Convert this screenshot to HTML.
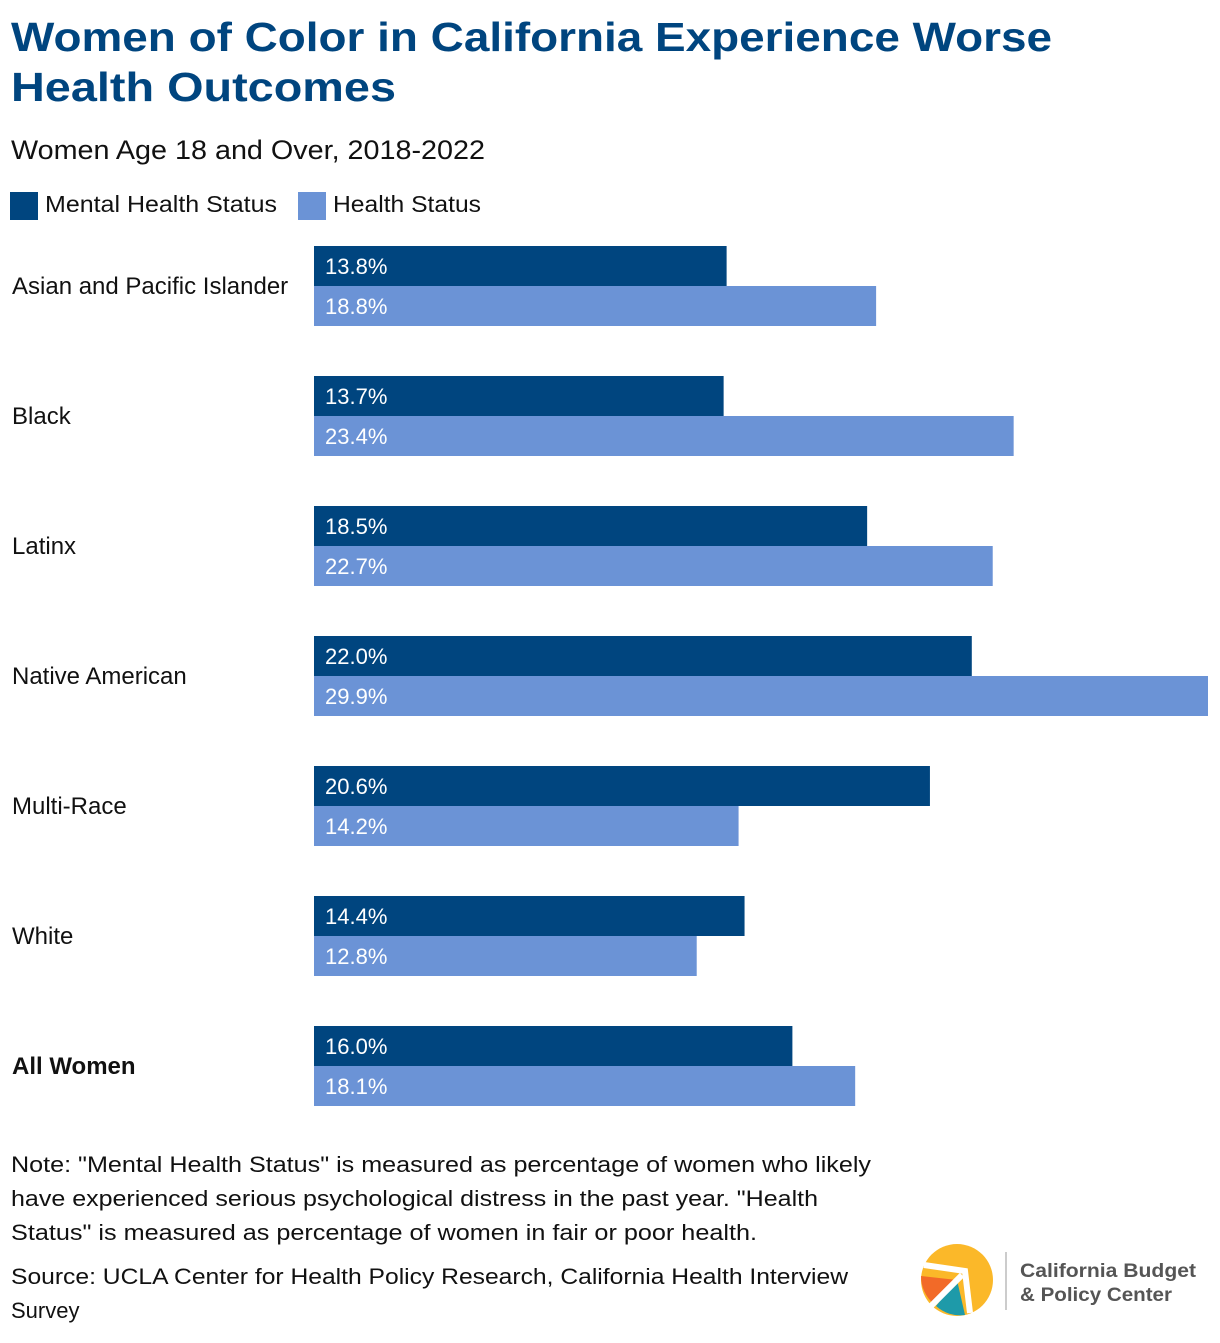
<!DOCTYPE html>
<html><head><meta charset="utf-8"><style>
body{margin:0;background:#fff;width:1220px;height:1338px;overflow:hidden}
text{font-family:"Liberation Sans",sans-serif}
</style></head><body>
<svg id="c" width="1220" height="1338" xmlns="http://www.w3.org/2000/svg">
<text x="11" y="51" font-size="41" font-weight="bold" fill="#00457f" textLength="1041" lengthAdjust="spacingAndGlyphs">Women of Color in California Experience Worse</text>
<text x="11" y="101" font-size="41" font-weight="bold" fill="#00457f" textLength="385" lengthAdjust="spacingAndGlyphs">Health Outcomes</text>
<text x="11" y="159" font-size="27" fill="#111" textLength="474" lengthAdjust="spacingAndGlyphs">Women Age 18 and Over, 2018-2022</text>
<g>
<rect x="10" y="192" width="28" height="28" fill="#00457f"/>
<text x="45" y="212" font-size="23" fill="#111" textLength="232" lengthAdjust="spacingAndGlyphs">Mental Health Status</text>
<rect x="298" y="192" width="28" height="28" fill="#6b93d6"/>
<text x="333" y="212" font-size="23" fill="#111" textLength="148" lengthAdjust="spacingAndGlyphs">Health Status</text>
</g>
<g id="bars"></g>
<text font-size="22" fill="#111">
<tspan x="11" y="1172" textLength="860" lengthAdjust="spacingAndGlyphs">Note: "Mental Health Status" is measured as percentage of women who likely</tspan>
<tspan x="11" y="1206" textLength="807" lengthAdjust="spacingAndGlyphs">have experienced serious psychological distress in the past year. "Health</tspan>
<tspan x="11" y="1240" textLength="746" lengthAdjust="spacingAndGlyphs">Status" is measured as percentage of women in fair or poor health.</tspan>
</text>
<text font-size="22" fill="#111">
<tspan x="11" y="1284" textLength="837" lengthAdjust="spacingAndGlyphs">Source: UCLA Center for Health Policy Research, California Health Interview</tspan>
<tspan x="11" y="1318">Survey</tspan>
</text>
<g>
<circle cx="957" cy="1280" r="36" fill="#fbb829"/>
<path d="M957,1280 L921,1276 A36,36 0 0,0 934,1304 Z" fill="#f26a28"/>
<path d="M957,1280 L936,1306 A36,36 0 0,0 965,1315 Z" fill="#1e9aa9"/>
<path d="M924,1265 L965,1271 L970,1313" stroke="#fff" stroke-width="6" fill="none"/>
<line x1="930" y1="1307" x2="962" y2="1275" stroke="#fff" stroke-width="6"/>
<line x1="1006" y1="1252" x2="1006" y2="1310" stroke="#bbb" stroke-width="1.5"/>
<text x="1020" y="1277" font-size="19" font-weight="bold" fill="#555" textLength="176" lengthAdjust="spacingAndGlyphs">California Budget</text>
<text x="1020" y="1301" font-size="19" font-weight="bold" fill="#555" textLength="152" lengthAdjust="spacingAndGlyphs">&amp; Policy Center</text>
</g>
</svg>
<script>
const categories=["Asian and Pacific Islander","Black","Latinx","Native American","Multi-Race","White","All Women"];
const mentalHealth=[13.8,13.7,18.5,22.0,20.6,14.4,16.0];
const healthStatus=[18.8,23.4,22.7,29.9,14.2,12.8,18.1];
const NS="http://www.w3.org/2000/svg";
const g=document.getElementById('bars');
const x0=314, pxPer=(1208-314)/29.9;
const xs=v=>v*pxPer;
const yTop=i=>246+i*130;
function el(t,a){const e=document.createElementNS(NS,t);for(const k in a)e.setAttribute(k,a[k]);g.appendChild(e);return e;}
categories.forEach((c,i)=>{
  const y=yTop(i);
  const lab=el('text',{x:12,y:y+48,'font-size':24,fill:'#111','font-weight':i===6?'bold':'normal'});
  lab.textContent=c;
  
  
  [[mentalHealth,'#00457f',0,'mental'],[healthStatus,'#6b93d6',40,'health']].forEach(([arr,col,off,nm])=>{
    const r=el('rect',{x:x0,y:y+off,width:xs(arr[i]),height:40,fill:col});
    
    
    const t=el('text',{x:x0+11,y:y+off+28,'font-size':22,fill:'#fff'});
    t.textContent=arr[i].toFixed(1)+'%';
    
    
  });
});
</script>
</body></html>
